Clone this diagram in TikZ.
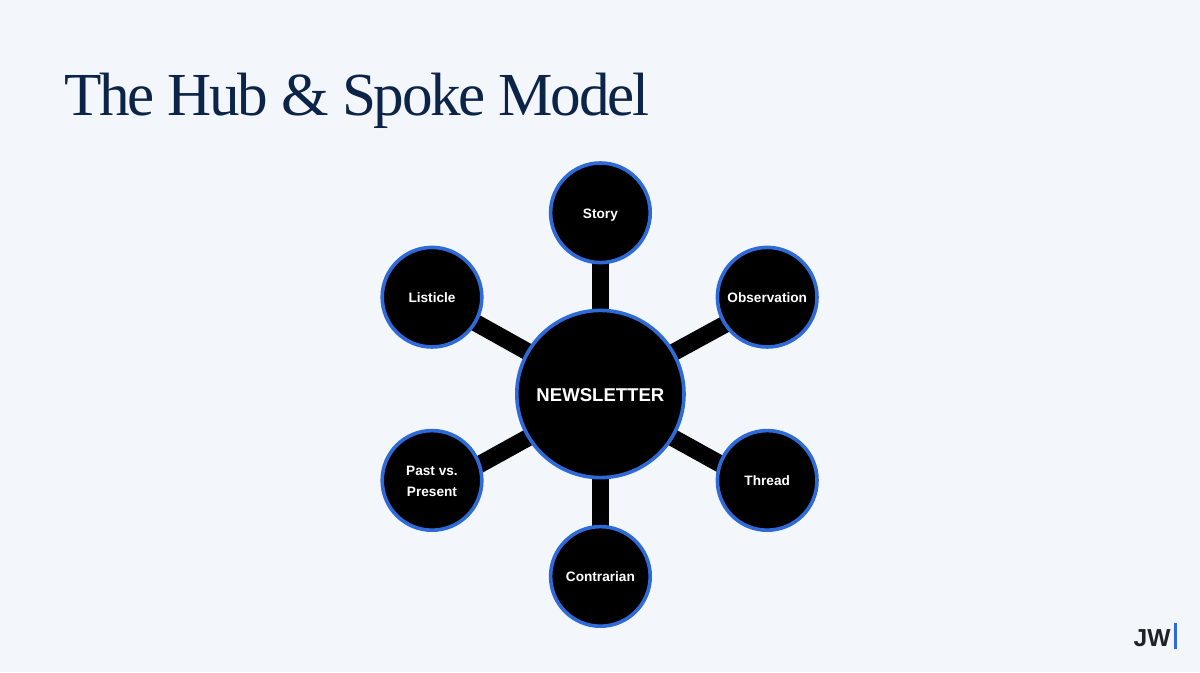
\documentclass[tikz,border=0pt]{standalone}
\usepackage{fontspec}
\setmainfont{Liberation Sans}
\newfontfamily\titlefont{Liberation Serif}
\usetikzlibrary{backgrounds, calc}
\definecolor{pagebg}{HTML}{F3F7FC}
\definecolor{ringblue}{HTML}{2F6AD9}
\definecolor{titleblue}{HTML}{0B2447}
\definecolor{logodark}{HTML}{1F2328}

\begin{document}
\begin{tikzpicture}[
        spokenode/.style={circle, draw=ringblue, line width=0.09cm, fill=black,
                     minimum size=2.49cm, inner sep=0pt, align=center, text=white,
                     execute at begin node={\rule{0pt}{11.5pt}},
                     execute at end node={\rule[-3.6pt]{0pt}{3.6pt}},
                     font=\fontsize{9.7}{14.9}\selectfont\bfseries},
        hubnode/.style={spokenode, minimum size=4.18cm,
                     execute at begin node={\rule{0pt}{14.4pt}},
                     font=\fontsize{13.2}{15}\selectfont\bfseries},
        spoke/.style={line width=0.43cm, black}
      ]
      \useasboundingbox (0,0) rectangle (30,16.8);
      \node[anchor=base west, text=titleblue, inner sep=0pt,
            font=\fontsize{43.5}{48}\titlefont\addfontfeature{LetterSpace=-3.75}] (title) at (1.6,13.9) {The Hub \& Spoke Model};
      \node[hubnode] (hub) at (15.01,6.95) {NEWSLETTER};
      \node[spokenode] (story) at (15.01,11.48) {Story};
      \node[spokenode] (listicle) at (10.8,9.37) {Listicle};
      \node[spokenode] (observation) at (19.18,9.37) {Observation};
      \node[spokenode] (past) at (10.8,4.79) {\rule{0pt}{11.7pt}Past vs.\\Present};
      \node[spokenode] (thread) at (19.18,4.79) {Thread};
      \node[spokenode] (contrarian) at (15.01,2.39) {Contrarian};
      % the slanted spokes run past the small circles' centres
      \coordinate (hubup) at (15.01,6.99);
      \coordinate (hubdown) at (15.01,6.86);
      \coordinate (listicleend) at (10.8,9.34);
      \coordinate (observationend) at (19.18,9.27);
      \coordinate (pastend) at (10.8,4.53);
      \coordinate (threadend) at (19.18,4.55);
      \node[anchor=base east, text=logodark, inner sep=0pt,
            font=\fontsize{17.5}{22}\selectfont\bfseries] (logo) at (29.27,0.63) {JW};
      \coordinate (bartop) at (29.38,1.23);
      \coordinate (barbot) at (29.38,0.57);
      \draw[ringblue, line width=0.065cm] (bartop) -- (barbot);
      \begin{scope}[on background layer]
        \fill[pagebg] (0,0) rectangle (30,16.8);
        \draw[spoke] (hub.center) -- (story.center);
        \draw[spoke] (hub.center) -- (contrarian.center);
        \draw[spoke] (hubup) -- (listicleend);
        \draw[spoke] (hubup) -- (observationend);
        \draw[spoke] (hubdown) -- (pastend);
        \draw[spoke] (hubdown) -- (threadend);
      \end{scope}
    \end{tikzpicture}
\end{document}
